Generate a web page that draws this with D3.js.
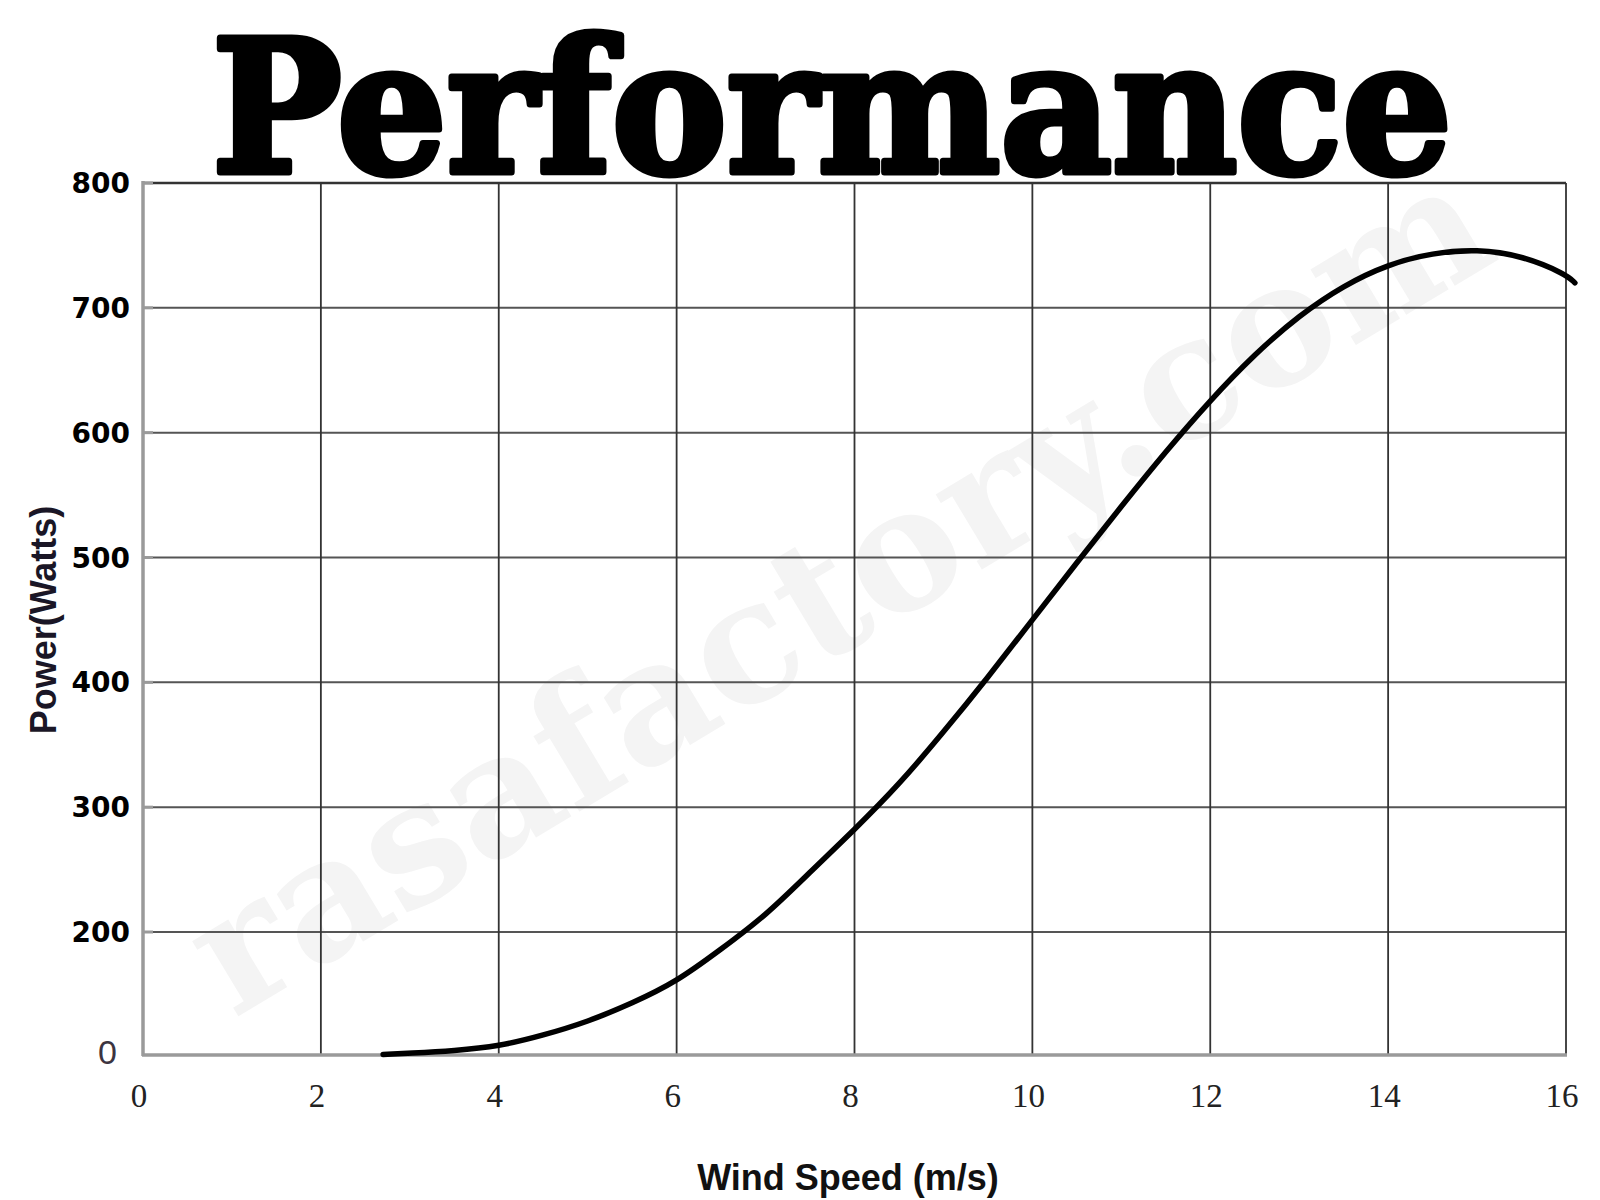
<!DOCTYPE html>
<html>
<head>
<meta charset="utf-8">
<script src="https://cdn.jsdelivr.net/npm/d3@7"></script>
<style>
  html, body { margin: 0; padding: 0; background: #ffffff; }
  svg { display: block; }
</style>
</head>
<body>
<svg id="chart" width="1600" height="1200"></svg>
<script>
// ---- data ----
const windSpeed = [2.7, 3, 3.5, 4, 4.5, 5, 5.5, 6, 6.5, 7, 7.5, 8, 8.5, 9, 9.5, 10, 10.5, 11, 11.5, 12, 12.5, 13, 13.5, 14, 14.5, 15, 15.5, 16, 16.1];
const powerWatts = [1, 3, 7, 14, 32, 54, 84, 119, 172, 213, 248, 282, 318, 360, 404, 450, 496, 541, 585, 626, 663, 694, 718, 735, 744, 747, 742, 727, 720];
const xTicks = [0, 2, 4, 6, 8, 10, 12, 14, 16];
const yTicks = [0, 200, 300, 400, 500, 600, 700, 800];
const yGrid = [200, 300, 400, 500, 600, 700, 800];
const titleText = "Performance";
const xTitle = "Wind Speed (m/s)";
const yTitle = "Power(Watts)";
const watermark = "rasafactory.com";

const svg = d3.select("#chart");

// scales (y axis in the reference is compressed between 0 and 200)
const x = d3.scaleLinear().domain([0, 16]).range([143, 1566]);
const y = d3.scaleLinear().domain([0, 200, 800]).range([1055, 932, 183]);

// watermark
svg.append("text")
  .attr("transform", "translate(845,600) rotate(-31)")
  .attr("text-anchor", "middle")
  .attr("dominant-baseline", "middle")
  .attr("font-family", "DejaVu Serif")
  .attr("font-weight", "bold")
  .attr("font-size", 170)
  .attr("fill", "#f4f4f4")
  .attr("textLength", 1480)
  .attr("lengthAdjust", "spacingAndGlyphs")
  .text(watermark);

// title
svg.append("text")
  .attr("x", 832).attr("y", 172)
  .attr("text-anchor", "middle")
  .attr("font-family", "DejaVu Serif")
  .attr("font-weight", "bold")
  .attr("font-size", 184)
  .attr("fill", "#000")
  .attr("stroke", "#000")
  .attr("stroke-width", 7)
  .attr("stroke-linejoin", "round")
  .attr("textLength", 1240)
  .attr("lengthAdjust", "spacingAndGlyphs")
  .text(titleText);

// grid
const grid = svg.append("g");
grid.selectAll("line.h").data(yGrid).join("line")
  .attr("class", "h")
  .attr("x1", x(0)).attr("x2", x(16))
  .attr("y1", d => y(d)).attr("y2", d => y(d))
  .attr("stroke", d => d === 800 ? "#333" : "#555")
  .attr("stroke-width", d => d === 800 ? 2.5 : 2);
grid.selectAll("line.v").data(xTicks.filter(d => d > 0)).join("line")
  .attr("class", "v")
  .attr("x1", d => x(d)).attr("x2", d => x(d))
  .attr("y1", y(800)).attr("y2", y(0))
  .attr("stroke", "#333")
  .attr("stroke-width", 1.8);

// axes (gray, thick)
svg.append("line")
  .attr("x1", x(0)).attr("x2", x(0))
  .attr("y1", y(800) - 2).attr("y2", y(0) + 1)
  .attr("stroke", "#9a9a9a").attr("stroke-width", 3.5);
svg.append("line")
  .attr("x1", x(0) - 1).attr("x2", x(16) + 1)
  .attr("y1", y(0)).attr("y2", y(0))
  .attr("stroke", "#9a9a9a").attr("stroke-width", 3.5);
// small left tick stubs
svg.append("g").selectAll("line").data(yGrid).join("line")
  .attr("x1", x(0)).attr("x2", x(0) + 10)
  .attr("y1", d => y(d)).attr("y2", d => y(d))
  .attr("stroke", "#9a9a9a").attr("stroke-width", 3);

// y tick labels
svg.append("g").selectAll("text").data(yTicks).join("text")
  .attr("x", d => d === 0 ? 117 : 130)
  .attr("y", d => y(d) - (d === 0 ? 3 : 0))
  .attr("dy", "0.36em")
  .attr("text-anchor", "end")
  .attr("font-family", d => d === 0 ? "Liberation Sans" : "DejaVu Sans")
  .attr("font-weight", d => d === 0 ? "normal" : "bold")
  .attr("font-size", d => d === 0 ? 34 : 28)
  .attr("fill", d => d === 0 ? "#3c3440" : "#000")
  .text(d => d);

// x tick labels
svg.append("g").selectAll("text").data(xTicks).join("text")
  .attr("x", d => x(d) - 4)
  .attr("y", 1107)
  .attr("text-anchor", "middle")
  .attr("font-family", "Liberation Serif")
  .attr("font-size", 33)
  .attr("fill", "#222")
  .text(d => d);

// axis titles
svg.append("text")
  .attr("x", 848).attr("y", 1190)
  .attr("text-anchor", "middle")
  .attr("font-family", "Liberation Sans")
  .attr("font-weight", "bold")
  .attr("font-size", 36)
  .attr("fill", "#111")
  .text(xTitle);
svg.append("text")
  .attr("transform", "translate(56,620) rotate(-90)")
  .attr("text-anchor", "middle")
  .attr("font-family", "Liberation Sans")
  .attr("font-weight", "bold")
  .attr("font-size", 36)
  .attr("fill", "#1a1626")
  .text(yTitle);

// curve
const pts = windSpeed.map((w, i) => [w, powerWatts[i]]);
const line = d3.line()
  .x(d => x(d[0]))
  .y(d => y(d[1]))
  .curve(d3.curveBasis);
svg.append("path")
  .datum(pts)
  .attr("d", line)
  .attr("fill", "none")
  .attr("stroke", "#000")
  .attr("stroke-width", 5.5)
  .attr("stroke-linecap", "round");
</script>
</body>
</html>
